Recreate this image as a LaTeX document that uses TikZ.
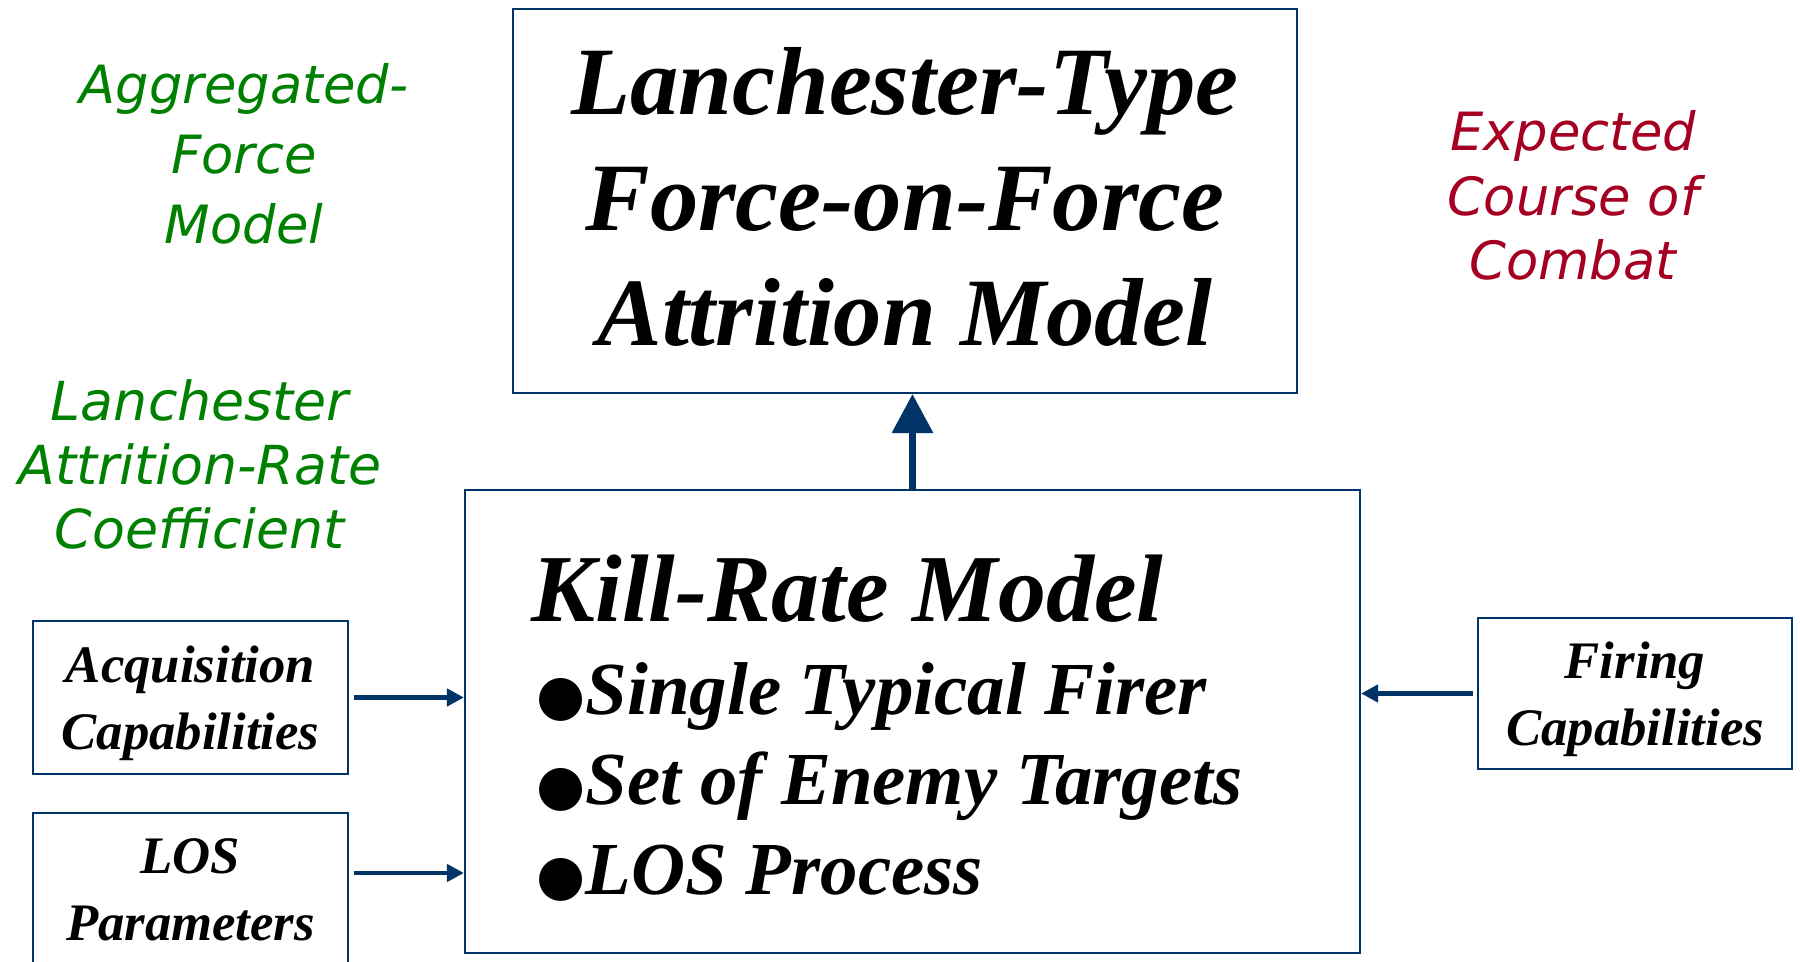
\documentclass[tikz,border=0pt]{standalone}
\usepackage{fontspec}
\setmainfont{Liberation Serif}
\newfontfamily\vfont{DejaVu Sans}
\usetikzlibrary{arrows.meta, positioning, calc}
\definecolor{navy}{HTML}{003366}
\definecolor{leaf}{HTML}{008000}
\definecolor{wine}{HTML}{A50021}
\newcommand{\bul}{{\vfont\fontsize{16}{16}\selectfont ●}}

\begin{document}
\begin{tikzpicture}[
  bx/.style={draw=navy, line width=0.6pt, fill=white, align=center, inner sep=0pt},
  sm/.style={bx, minimum width=3.15cm, minimum height=1.53cm, text depth=0pt,
             font=\bfseries\itshape\fontsize{15}{19}\selectfont},
  big/.style={font=\bfseries\itshape\fontsize{27.5}{32.8}\selectfont, text depth=0.09cm},
  item/.style={font=\bfseries\itshape\fontsize{21.3}{25}\selectfont, inner sep=0pt,
               anchor=base west},
  note/.style={font=\vfont\itshape\fontsize{15}{19.9}\selectfont, align=center,
               inner sep=0pt},
  ar/.style={-{Triangle[length=1.7mm, width=1.7mm]}, draw=navy, line width=1.3pt},
  upar/.style={-{Triangle[length=3.9mm, width=4mm]}, draw=navy, line width=1.8pt}]

\useasboundingbox (0,0) rectangle (18,-9.62);

\node[bx, big, minimum width=7.84cm, minimum height=3.84cm] (top) at (9.05,-2.01)
  {Lanchester-Type\\Force-on-Force\\Attrition Model};
\node[bx, minimum width=8.95cm, minimum height=4.63cm] (kill) at (9.125,-7.215) {};
\node[item, font=\bfseries\itshape\fontsize{27.3}{30}\selectfont] (ktitle)
  at ($(kill.north west)+(0.67,-1.33)$) {Kill-Rate Model};
\node[item] (i1) at ($(ktitle.base west)+(0.05,-0.93)$) {\bul Single Typical Firer};
\node[item, below=9mm of i1.base west, anchor=base west] (i2) {\bul Set of Enemy Targets};
\node[item, below=9mm of i2.base west, anchor=base west] (i3) {\bul LOS Process};

\node[sm] (acq) at (1.905,-6.975) {Acquisition\\Capabilities};
\node[sm] (los) at (1.905,-8.895) {LOS\\Parameters};
\node[sm, minimum width=3.14cm, minimum height=1.51cm] (fire) at (16.35,-6.935)
  {Firing\\Capabilities};

\node[note, text=leaf] (agg) at (2.44,-1.535) {Aggregated-\\Force\\Model};
\node[note, text=leaf, font=\vfont\itshape\fontsize{15.3}{18.2}\selectfont] (coef)
  at (2.0,-4.64) {Lanchester\\Attrition-Rate\\Coefficient};
\node[note, text=wine, font=\vfont\itshape\fontsize{15}{18.4}\selectfont] (ecc)
  at (15.73,-1.955) {Expected\\Course of\\Combat};

\coordinate (losr) at ($(los.east)+(0,0.165)$);

\draw[upar] (kill.north) -- (kill.north |- top.south);
\draw[ar] ([xshift=0.5mm]acq.east) -- (acq.east -| kill.west);
\draw[ar] ([xshift=0.5mm]losr) -- (losr -| kill.west);
\draw[ar] ([xshift=-0.4mm]fire.west) -- (fire.west -| kill.east);
\end{tikzpicture}
\end{document}
